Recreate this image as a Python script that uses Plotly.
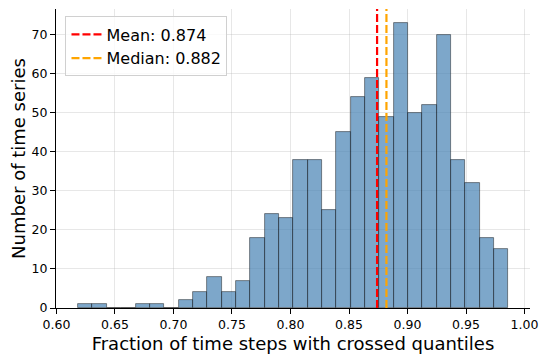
import numpy as np
import plotly.graph_objects as go

# histogram of per-series fractions (30 equal bins)
bin_start = 0.6185
bin_end = 0.9863
counts = [1, 1, 0, 0, 1, 1, 0, 2, 4, 8, 4, 7, 18, 24, 23,
          38, 38, 25, 45, 54, 59, 49, 73, 50, 52, 70, 38, 32, 18, 15]
mean_value = 0.874
median_value = 0.882

x_ticks = [0.60, 0.65, 0.70, 0.75, 0.80, 0.85, 0.90, 0.95, 1.00]
y_ticks = [0, 10, 20, 30, 40, 50, 60, 70]

FONT = "DejaVu Sans"

edges = np.linspace(bin_start, bin_end, len(counts) + 1)
centers = (edges[:-1] + edges[1:]) / 2
width = edges[1] - edges[0]
y_top = max(counts) * 1.05
span = bin_end - bin_start

fig = go.Figure()
fig.add_trace(go.Bar(
    x=centers, y=counts, width=width,
    marker=dict(color="rgba(70,130,180,0.7)",
                line=dict(color="rgba(0,0,0,0.55)", width=0.8)),
    showlegend=False,
))
fig.add_trace(go.Scatter(
    x=[mean_value, mean_value], y=[0, y_top], mode="lines",
    line=dict(color="red", width=2.2, dash="8px,3px"),
    name=f"Mean: {mean_value:.3f}",
))
fig.add_trace(go.Scatter(
    x=[median_value, median_value], y=[0, y_top], mode="lines",
    line=dict(color="orange", width=2.2, dash="8px,3px"),
    name=f"Median: {median_value:.3f}",
))

grid = "rgba(176,176,176,0.3)"
# the page body adds 8px on the left/top, margins compensate for it
fig.update_layout(
    width=549, height=362,
    margin=dict(l=48, r=27, t=1, b=62),
    plot_bgcolor="white", paper_bgcolor="white",
    bargap=0,
    font=dict(family=FONT, color="black"),
    legend=dict(
        x=0.02, y=0.975, xanchor="left", yanchor="top",
        bgcolor="rgba(255,255,255,0.8)", bordercolor="#d0d0d0", borderwidth=1,
        font=dict(size=16, family=FONT),
        tracegroupgap=0, itemwidth=30,
    ),
    xaxis=dict(
        range=[min(x_ticks) - 0.0004, bin_end + 0.05 * span],
        tickvals=x_ticks, ticktext=[f"{v:.2f}" for v in x_ticks],
        showgrid=True, gridcolor=grid, gridwidth=1,
        showline=True, linecolor="black", linewidth=1,
        ticks="outside", ticklen=5, tickcolor="black",
        tickfont=dict(size=12.5),
        zeroline=False, automargin=False,
        title=dict(text="Fraction of time steps with crossed quantiles",
                   font=dict(size=18), standoff=6),
    ),
    yaxis=dict(
        range=[0, y_top],
        tickvals=y_ticks,
        showgrid=True, gridcolor=grid, gridwidth=1,
        showline=True, linecolor="black", linewidth=1,
        ticks="outside", ticklen=5, tickcolor="black",
        tickfont=dict(size=12.5),
        zeroline=False, automargin=False,
        title=dict(text="Number of time series", font=dict(size=18), standoff=8),
    ),
)

fig.write_html("out.html")
